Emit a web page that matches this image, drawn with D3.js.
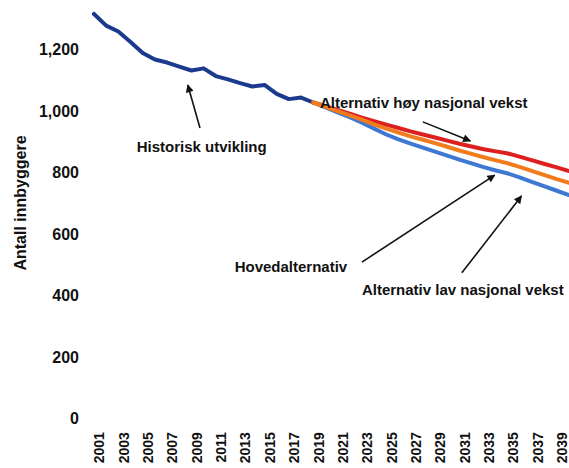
<!DOCTYPE html>
<html>
<head>
<meta charset="utf-8">
<script src="https://cdn.jsdelivr.net/npm/d3@7"></script>
<style>
  body { margin: 0; background: #fff; }
  svg text { font-family: "Liberation Sans", Arial, sans-serif; font-weight: bold; fill: #111; }
</style>
</head>
<body>
<div id="chart"></div>
<script>
// historisk utvikling 2001-2019
var histYears = d3.range(2001, 2020);
var histValues = [1314, 1276, 1257, 1223, 1187, 1166, 1156, 1143, 1130, 1137,
                  1112, 1101, 1089, 1078, 1083, 1054, 1037, 1042, 1026];

// framskrivinger 2019-2040
var projYears = d3.range(2019, 2041);
var hoyValues = [1026, 1014, 1002, 990, 977, 965, 954, 943, 932, 922, 912,
                 902, 892, 883, 874, 867, 860, 849, 838, 826, 815, 803];
var hovedValues = [1026, 1012, 998, 984, 970, 955, 941, 928, 916, 905, 894,
                   882, 870, 859, 848, 838, 828, 816, 803, 790, 777, 765];
var lavValues = [1026, 1010, 994, 978, 960, 941, 922, 906, 892, 879, 866,
                 853, 840, 828, 816, 805, 795, 782, 767, 753, 739, 725];

var yearTicks = d3.range(2001, 2040, 2);
var valueTicks = [0, 200, 400, 600, 800, 1000, 1200];

// tekst og piler, i dataenheter (år, innbyggere)
var notes = [
    { text: "Historisk utvikling", tx: 2004.5, ty: 865, from: [2009.7, 943], to: [2008.7, 1083] },
    { text: "Alternativ høy nasjonal vekst", tx: 2019.55, ty: 1008, from: [2028.0, 963], to: [2031.9, 901] },
    { text: "Hovedalternativ", tx: 2012.55, ty: 475, from: [2023.0, 507], to: [2033.9, 790] },
    { text: "Alternativ lav nasjonal vekst", tx: 2023.0, ty: 400, from: [2031.2, 472], to: [2036.1, 722] }
];

var width = 569, height = 468;

var svg = d3.select("#chart").append("svg")
    .attr("width", width)
    .attr("height", height);

var xScale = d3.scaleLinear()
    .domain([2001, 2040])
    .range([94, 569]);
var yScale = d3.scaleLinear()
    .domain([0, 1200])
    .range([418, 49]);

svg.append("defs").append("marker")
    .attr("id", "arrow")
    .attr("viewBox", "0 0 10 10")
    .attr("refX", 9)
    .attr("refY", 5)
    .attr("markerWidth", 11)
    .attr("markerHeight", 8)
    .attr("markerUnits", "userSpaceOnUse")
    .attr("orient", "auto")
    .append("path")
    .attr("d", "M0,0L10,5L0,10z")
    .attr("fill", "#111");

// y-akse
var yAxis = svg.append("g")
    .attr("transform", "translate(82,0)")
    .call(d3.axisLeft(yScale).tickValues(valueTicks).tickSize(0).tickPadding(3)
        .tickFormat(d3.format(",")));
yAxis.select(".domain").remove();
yAxis.selectAll("text")
    .style("font-size", "16px")
    .attr("dy", "0.36em");

svg.append("text")
    .attr("transform", "translate(26,203) rotate(-90)")
    .attr("text-anchor", "middle")
    .style("font-size", "16px")
    .text("Antall innbyggere");

// x-akse
var xAxis = svg.append("g")
    .attr("transform", "translate(0,430)")
    .call(d3.axisBottom(xScale).tickValues(yearTicks).tickSize(0).tickPadding(0)
        .tickFormat(d3.format("d")));
xAxis.select(".domain").remove();
xAxis.selectAll("text")
    .style("font-size", "14px")
    .attr("text-anchor", "end")
    .attr("transform", "rotate(-90)")
    .attr("x", 0)
    .attr("y", 0)
    .attr("dx", "-0.15em")
    .attr("dy", "0.7em");

var line = d3.line()
    .x(function (d) { return xScale(d[0]); })
    .y(function (d) { return yScale(d[1]); })
    .curve(d3.curveLinear);

function series(years, values) {
    return years.map(function (y, i) { return [y, values[i]]; });
}

svg.append("path")
    .datum(series(histYears, histValues))
    .attr("fill", "none")
    .attr("stroke", "#1b3a8e")
    .attr("stroke-width", 4)
    .attr("stroke-linejoin", "round")
    .attr("stroke-linecap", "round")
    .attr("d", line);

var proj = [
    { values: lavValues, color: "#3e78d2" },
    { values: hoyValues, color: "#de1f1f" },
    { values: hovedValues, color: "#f27b1c" }
];
proj.forEach(function (p) {
    svg.append("path")
        .datum(series(projYears, p.values))
        .attr("fill", "none")
        .attr("stroke", p.color)
        .attr("stroke-width", 4)
        .attr("stroke-linejoin", "round")
        .attr("stroke-linecap", "round")
        .attr("d", line);
});

// annotasjoner
var note = svg.append("g").selectAll("g")
    .data(notes)
    .enter().append("g");

note.append("line")
    .attr("x1", function (d) { return xScale(d.from[0]); })
    .attr("y1", function (d) { return yScale(d.from[1]); })
    .attr("x2", function (d) { return xScale(d.to[0]); })
    .attr("y2", function (d) { return yScale(d.to[1]); })
    .attr("stroke", "#111")
    .attr("stroke-width", 1.6)
    .attr("marker-end", "url(#arrow)");

note.append("text")
    .attr("x", function (d) { return xScale(d.tx); })
    .attr("y", function (d) { return yScale(d.ty); })
    .style("font-size", "15px")
    .text(function (d) { return d.text; });
</script>
</body>
</html>
